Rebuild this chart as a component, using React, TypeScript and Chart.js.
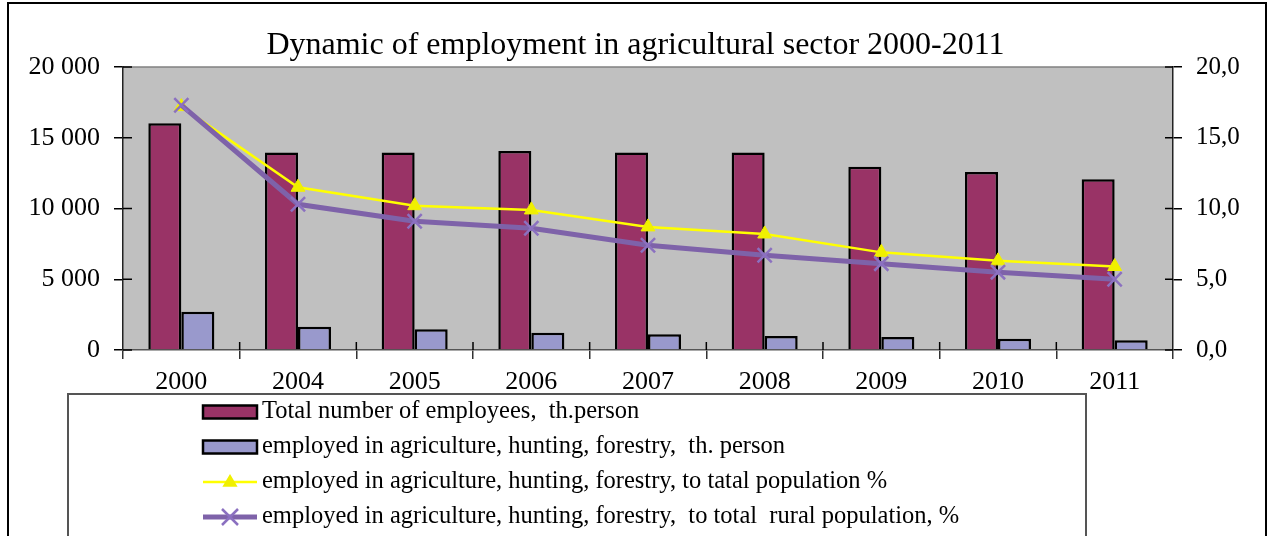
import React, { useEffect, useRef } from "react";
import { Chart, registerables } from "chart.js";

Chart.register(...registerables);

const years = ["2000", "2004", "2005", "2006", "2007", "2008", "2009", "2010", "2011"];
const totalEmployees = [16020, 13950, 13950, 14060, 13950, 13950, 12950, 12580, 12060];
const agriEmployees = [2710, 1650, 1460, 1225, 1110, 990, 920, 800, 685];
const agriShareTotal = [17.2, 11.5, 10.2, 9.9, 8.7, 8.2, 6.9, 6.3, 5.9];
const agriShareRural = [17.3, 10.3, 9.1, 8.6, 7.4, 6.7, 6.1, 5.5, 5.0];

const titleText = "Dynamic of employment in agricultural sector 2000-2011";
const seriesLabels = [
  "Total number of employees,  th.person",
  "employed in agriculture, hunting, forestry,  th. person",
  "employed in agriculture, hunting, forestry, to tatal population %",
  "employed in agriculture, hunting, forestry,  to total  rural population, %",
];
const leftTicks = [0, 5000, 10000, 15000, 20000];
const rightTicks = [0, 5, 10, 15, 20];

const FONT = "'Liberation Serif', 'Times New Roman', serif";

const framePlugin = {
  id: "frameAndBg",
  beforeDraw(chart: any) {
    const { ctx, chartArea } = chart;
    ctx.save();
    ctx.fillStyle = "#ffffff";
    ctx.fillRect(0, 0, chart.width, chart.height);
    ctx.fillStyle = "#c0c0c0";
    ctx.fillRect(chartArea.left, chartArea.top, chartArea.right - chartArea.left, chartArea.bottom - chartArea.top);
    ctx.strokeStyle = "#808080";
    ctx.lineWidth = 1.5;
    ctx.beginPath();
    ctx.moveTo(chartArea.left, chartArea.top);
    ctx.lineTo(chartArea.right, chartArea.top);
    ctx.stroke();
    ctx.strokeStyle = "#000";
    ctx.lineWidth = 2;
    ctx.beginPath();
    ctx.moveTo(8, chart.height + 2);
    ctx.lineTo(8, 3);
    ctx.lineTo(1266, 3);
    ctx.lineTo(1266, chart.height + 2);
    ctx.stroke();
    ctx.restore();
  },
  afterDraw(chart: any) {
    const { ctx, chartArea } = chart;
    ctx.save();
    ctx.strokeStyle = "#000";
    ctx.lineWidth = 1.5;
    const y = chart.scales.y;
    y.ticks.forEach((_t: any, i: number) => {
      const p = y.getPixelForTick(i);
      ctx.beginPath();
      ctx.moveTo(chartArea.left, p);
      ctx.lineTo(chartArea.left + 9, p);
      ctx.stroke();
    });
    const y1 = chart.scales.y1;
    y1.ticks.forEach((_t: any, i: number) => {
      const p = y1.getPixelForTick(i);
      ctx.beginPath();
      ctx.moveTo(chartArea.right - 8, p);
      ctx.lineTo(chartArea.right, p);
      ctx.stroke();
    });
    const x = chart.scales.x;
    const n = x.ticks.length;
    for (let i = 1; i < n; i++) {
      const p = (x.getPixelForTick(i - 1) + x.getPixelForTick(i)) / 2;
      ctx.beginPath();
      ctx.moveTo(p, chartArea.bottom - 8);
      ctx.lineTo(p, chartArea.bottom);
      ctx.stroke();
    }

    // legend
    ctx.strokeStyle = "#555";
    ctx.lineWidth = 2;
    ctx.beginPath();
    ctx.moveTo(68, chart.height + 2);
    ctx.lineTo(68, 394);
    ctx.lineTo(1086, 394);
    ctx.lineTo(1086, chart.height + 2);
    ctx.stroke();

    const ds = chart.data.datasets;
    ds.forEach((d: any, i: number) => {
      const cy = 412 + 35 * i;
      const x0 = 203;
      const x1 = 257;
      if (d.type === "line") {
        ctx.strokeStyle = d.borderColor;
        ctx.lineWidth = d.borderWidth;
        ctx.beginPath();
        ctx.moveTo(x0, cy);
        ctx.lineTo(x1, cy);
        ctx.stroke();
        const mx = (x0 + x1) / 2;
        if (d.pointStyle === "triangle") {
          ctx.fillStyle = d.pointBackgroundColor;
          const r = d.pointRadius;
          ctx.beginPath();
          ctx.moveTo(mx, cy - r);
          ctx.lineTo(mx + r * 0.95, cy + r * 0.6);
          ctx.lineTo(mx - r * 0.95, cy + r * 0.6);
          ctx.closePath();
          ctx.fill();
        } else {
          ctx.strokeStyle = d.pointBorderColor;
          ctx.lineWidth = d.pointBorderWidth;
          const r = d.pointRadius * 0.8;
          ctx.beginPath();
          ctx.moveTo(mx - r, cy - r);
          ctx.lineTo(mx + r, cy + r);
          ctx.moveTo(mx + r, cy - r);
          ctx.lineTo(mx - r, cy + r);
          ctx.stroke();
        }
      } else {
        ctx.fillStyle = d.backgroundColor;
        ctx.fillRect(x0, cy - 6.5, x1 - x0, 13);
        ctx.strokeStyle = "#000";
        ctx.lineWidth = 2.5;
        ctx.strokeRect(x0, cy - 6.5, x1 - x0, 13);
      }
      ctx.fillStyle = "#000";
      ctx.font = `24.5px ${FONT}`;
      ctx.textBaseline = "middle";
      ctx.textAlign = "left";
      ctx.fillText(d.label, 262, cy);
    });
    ctx.restore();
  },
};

export default function App() {
  const ref = useRef<HTMLCanvasElement | null>(null);
  useEffect(() => {
    if (!ref.current) return;
    Chart.defaults.font.family = FONT;
    const chart = new Chart(ref.current, {
      type: "bar",
      data: {
        labels: years,
        datasets: [
          {
            type: "bar",
            label: seriesLabels[0],
            data: totalEmployees,
            yAxisID: "y",
            backgroundColor: "#993366",
            borderColor: "#000",
            borderWidth: 2.5,
            order: 2,
          } as any,
          {
            type: "bar",
            label: seriesLabels[1],
            data: agriEmployees,
            yAxisID: "y",
            backgroundColor: "#9999cc",
            borderColor: "#000",
            borderWidth: 2.5,
            order: 3,
          } as any,
          {
            type: "line",
            label: seriesLabels[2],
            data: agriShareTotal,
            yAxisID: "y1",
            borderColor: "#ffff00",
            borderWidth: 2.5,
            pointStyle: "triangle",
            pointRadius: 8,
            pointBorderWidth: 1,
            pointBorderColor: "#f0f000",
            pointBackgroundColor: "#f0f000",
            tension: 0,
            order: 1,
          } as any,
          {
            type: "line",
            label: seriesLabels[3],
            data: agriShareRural,
            yAxisID: "y1",
            borderColor: "#7e62a9",
            borderWidth: 5,
            pointStyle: "crossRot",
            pointRadius: 10,
            pointBorderWidth: 2.5,
            pointBorderColor: "#8b70c0",
            pointBackgroundColor: "#8b70c0",
            tension: 0,
            order: 0,
          } as any,
        ],
      },
      options: {
        animation: false,
        responsive: false,
        devicePixelRatio: 1,
        layout: { padding: { left: 0, right: 0, top: 0, bottom: 136 } },
        datasets: {
          bar: { categoryPercentage: 0.566, barPercentage: 1.0 },
        } as any,
        plugins: {
          legend: { display: false },
          tooltip: { enabled: false },
          title: {
            display: true,
            text: titleText,
            color: "#000",
            font: { family: FONT, size: 32, weight: "normal" },
            padding: { top: 26, bottom: 2.6 },
          },
        },
        scales: {
          x: {
            offset: true,
            grid: { display: true, drawOnChartArea: false, drawTicks: true, tickLength: 9, color: "#333", lineWidth: 1.5, offset: true },
            border: { display: true, color: "#555", width: 1.5 },
            ticks: { color: "#000", font: { family: FONT, size: 26 }, padding: 8, maxRotation: 0 },
            afterFit: (s: any) => { s.height = 50; },
          },
          y: {
            position: "left",
            min: 0,
            max: 20000,
            afterBuildTicks: (s: any) => { s.ticks = leftTicks.map((v) => ({ value: v })); },
            grid: { display: true, drawOnChartArea: false, drawTicks: true, tickLength: 9, color: "#000", lineWidth: 1.5 },
            border: { display: true, color: "#222", width: 1.5 },
            ticks: {
              color: "#000",
              font: { family: FONT, size: 26 },
              padding: 14,
              callback: (v: any) => String(v).replace(/\B(?=(\d{3})+(?!\d))/g, " "),
            },
            afterFit: (s: any) => { s.width = 123; },
          },
          y1: {
            position: "right",
            min: 0,
            max: 20,
            afterBuildTicks: (s: any) => { s.ticks = rightTicks.map((v) => ({ value: v })); },
            grid: { display: true, drawOnChartArea: false, drawTicks: true, tickLength: 9, color: "#000", lineWidth: 1.5 },
            border: { display: true, color: "#222", width: 1.5 },
            ticks: {
              color: "#000",
              font: { family: FONT, size: 25 },
              padding: 14,
              callback: (v: any) => Number(v).toFixed(1).replace(".", ","),
            },
            afterFit: (s: any) => { s.width = 98; },
          },
        },
      },
      plugins: [framePlugin],
    });
    return () => chart.destroy();
  }, []);
  return (
    <div style={{ position: "fixed", left: 0, top: 0, width: 1271, height: 536, background: "#fff" }}>
      <canvas ref={ref} width={1271} height={536} style={{ width: 1271, height: 536, display: "block" }} />
    </div>
  );
}
